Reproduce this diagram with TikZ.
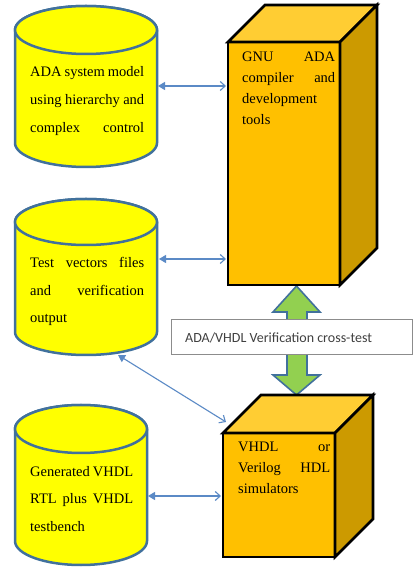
\documentclass[tikz,border=0pt]{standalone}
\usepackage{fontspec}
\setmainfont{Liberation Serif}
\newfontfamily\labelfont{Carlito}
\usetikzlibrary{arrows.meta}
\definecolor{cylfill}{HTML}{FFFF00}
\definecolor{cylline}{HTML}{41719C}
\definecolor{cubefront}{HTML}{FFC000}
\definecolor{cubetop}{HTML}{FFCD33}
\definecolor{cubeside}{HTML}{CC9A00}
\definecolor{connblue}{HTML}{5B8AC6}
\definecolor{greenfill}{HTML}{92D050}
\definecolor{boxline}{HTML}{8C8C8C}
\definecolor{labeltext}{HTML}{404040}
\tikzset{
  cylshape/.style={fill=cylfill,draw=cylline,line width=2.5pt},
  cubeshape/.style={draw=black,line width=2.6pt,line join=miter},
  conn/.style={draw=connblue,line width=1.1pt,{Triangle[length=7pt,width=8pt]}-{Straight Barb[length=5pt,width=9pt]}},
  txt/.style={anchor=base west,inner sep=0pt,font=\fontsize{14.5}{17}\selectfont},
  bigarrow/.style={fill=greenfill,draw=cylline,line width=1.6pt,line join=miter},
  labelbox/.style={fill=white,draw=boxline,line width=0.9pt},
}
\newcommand{\mycyl}[5]{% x1, x2, Ytop, Ybot, ry
  \pgfmathsetmacro{\rx}{(#2-#1)/2}
  \pgfmathsetmacro{\cx}{(#2+#1)/2}
  \path[cylshape] (#1,#3) -- (#1,#4) arc (180:360:\rx pt and #5pt) -- (#2,#3) arc (0:180:\rx pt and #5pt) -- cycle;
  \path[cylshape] (\cx,#3) ellipse (\rx pt and #5pt);
}
\newcommand{\mycube}[5]{% x1, x2, Ytop, Ybot, depth
  \pgfmathsetmacro{\xa}{#1+#5}
  \pgfmathsetmacro{\xb}{#2+#5}
  \pgfmathsetmacro{\ya}{#3+#5}
  \pgfmathsetmacro{\yb}{#4+#5}
  \path[cubeshape,fill=cubefront] (#1,#4) rectangle (#2,#3);
  \path[cubeshape,fill=cubetop] (#1,#3) -- (\xa,\ya) -- (\xb,\ya) -- (#2,#3) -- cycle;
  \path[cubeshape,fill=cubeside] (#2,#3) -- (\xb,\ya) -- (\xb,\yb) -- (#2,#4) -- cycle;
}
\begin{document}
\begin{tikzpicture}[x=1pt,y=1pt]
\useasboundingbox[fill=white] (0,0) rectangle (413,571);

% cylinders
\mycyl{15}{157}{541}{428}{24}
\mycyl{15}{157}{349}{239}{23}
\mycyl{15}{147}{142}{30}{24}

% green double arrow
\path[bigarrow] (296.5,285) -- (320,259) -- (307,259) -- (307,196) -- (320,196)
  -- (296.5,176) -- (273,196) -- (287,196) -- (287,259) -- (273,259) -- cycle;

% cubes
\mycube{228}{340}{529}{286}{37}
\mycube{223}{335}{138}{14}{38}

% label box
\path[labelbox] (171,252) rectangle (412,217);
\node[anchor=base west,inner sep=0pt,text=labeltext,font=\labelfont\fontsize{14}{16}\selectfont] (lbl) at (185,228) {ADA/VHDL Verification cross-test};

% texts cylinder 1
\node[txt] (t1a) at (30,494) {\makebox[114pt][s]{ADA system model}};
\node[txt] (t1b) at (30,466) {\makebox[114pt][s]{using hierarchy and}};
\node[txt] (t1c) at (30,438) {\makebox[114pt][s]{complex control}};
% texts cube 1
\node[txt] (g1a) at (242,509) {\makebox[93pt][s]{GNU ADA}};
\node[txt] (g1b) at (242,488) {\makebox[93pt][s]{compiler and}};
\node[txt] (g1c) at (242,467) {development};
\node[txt] (g1d) at (242,446) {tools};
% texts cylinder 2
\node[txt] (t2a) at (30,303) {\makebox[114pt][s]{Test vectors files}};
\node[txt] (t2b) at (30,275) {\makebox[114pt][s]{and verification}};
\node[txt] (t2c) at (30,248) {output};
% texts cube 2
\node[txt] (g2a) at (238,119) {\makebox[92pt][s]{VHDL or}};
\node[txt] (g2b) at (238,98) {\makebox[92pt][s]{Verilog HDL}};
\node[txt] (g2c) at (238,77) {simulators};
% texts cylinder 3
\node[txt] (t3a) at (30,94) {\makebox[103pt][s]{Generated VHDL}};
\node[txt] (t3b) at (30,67) {\makebox[103pt][s]{RTL plus VHDL}};
\node[txt] (t3c) at (30,39) {testbench};

% connector end points
\coordinate (cyl1E) at (158,485);
\coordinate (cube1Wa) at (226,485);
\coordinate (cyl2E) at (159,312);
\coordinate (cube1Wb) at (226,312);
\coordinate (cyl2S) at (118,216);
\coordinate (cube2NW) at (226,149);
\coordinate (cyl3E) at (148,75);
\coordinate (cube2W) at (221,75);

\draw[conn] (cyl1E) -- (cube1Wa);
\draw[conn] (cyl2E) -- (cube1Wb);
\draw[conn] (cyl2S) -- (cube2NW);
\draw[conn] (cyl3E) -- (cube2W);
\end{tikzpicture}
\end{document}
